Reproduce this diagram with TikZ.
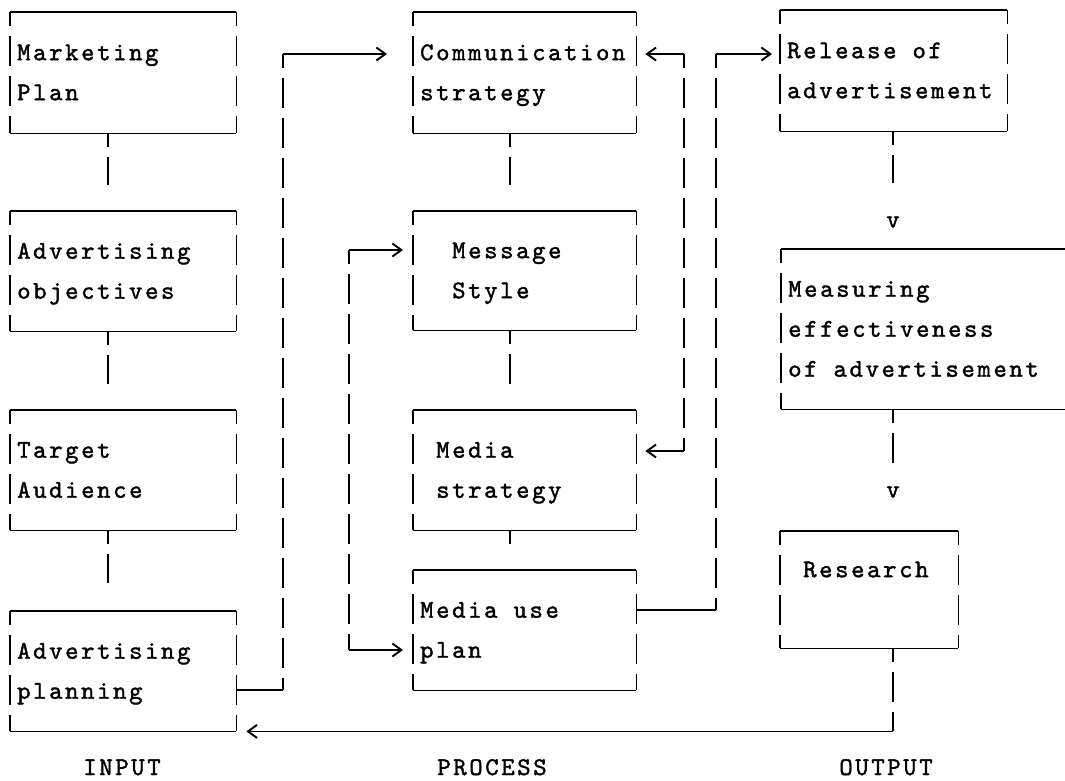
\documentclass[tikz,border=0pt]{standalone}
\usepackage{fontspec}
\newfontfamily\typewriter{lmmono10-regular.otf}[LetterSpace=10.2,FakeBold=1.5]
\usetikzlibrary{arrows.meta}
% fixed row height for the typed lines
\newcommand\rowstrut{\rule[-12.5pt]{0pt}{40pt}}
% one typewriter cell of blank space
\newcommand\cell{\hspace*{16pt}}
% typed frame: solid rules top and bottom, broken bars on the sides
\newcommand\typedframe[1]{%
  \draw[hline] (#1.north west) -- (#1.north east);
  \draw[hline] (#1.south west) -- (#1.south east);
  \draw[vline] (#1.north west) -- (#1.south west);
  \draw[vline] (#1.north east) -- (#1.south east);}
\begin{document}
\begin{tikzpicture}[x=1pt,y=-1pt,
  >={Straight Barb[length=9pt,width=13pt,line width=1.9pt]},
  txt/.style={font=\typewriter\fontsize{25.5}{40}\selectfont},
  box/.style 2 args={txt, anchor=north west, inner xsep=7pt, inner ysep=0pt,
    align=left, text width=#1, minimum height=#2},
  hline/.style={line width=1.6pt},
  vline/.style={line width=1.6pt, dash pattern=on 30pt off 10pt, dash phase=16pt},
  tick/.style={txt, inner sep=0pt},
  heading/.style={txt, anchor=base, inner sep=0pt}]

\useasboundingbox (0,0) rectangle (1065,780);

% ---------- input column ----------
\node[box={212pt}{121pt}] (mkt)  at (10,12)  {\rowstrut Marketing\\Plan\rowstrut};
\node[box={212pt}{120pt}] (obj)  at (10,211) {\rowstrut Advertising\\objectives\rowstrut};
\node[box={212pt}{120pt}] (aud)  at (10,410) {\rowstrut Target\\Audience\rowstrut};
\node[box={212pt}{120pt}] (plan) at (10,611) {\rowstrut Advertising\\planning\rowstrut};

% ---------- process column ----------
\node[box={209pt}{121pt}] (comm) at (413,12)  {\rowstrut Communication\\strategy\rowstrut};
\node[box={209pt}{119pt}] (msg)  at (413,211) {\rowstrut\cell\cell Message\\\cell\cell Style\rowstrut};
\node[box={209pt}{120pt}] (mstr) at (413,410) {\rowstrut\cell Media\\\cell strategy\rowstrut};
\node[box={209pt}{120pt}] (muse) at (413,570) {\rowstrut Media\cell use\\plan\rowstrut};

% ---------- output column ----------
\node[box={213pt}{121pt}] (rel)  at (780,10)  {\rowstrut Release\cell of\\advertisement\rowstrut};
\node[box={280pt}{160pt}] (meas) at (781,249) {\rowstrut Measuring\\effectiveness\\of\cell advertisement\rowstrut};
\node[box={164pt}{117pt}] (res)  at (780,531) {\rowstrut\cell Research\\\rowstrut};

\foreach \b in {mkt,obj,aud,plan,comm,msg,mstr,muse,rel,res} {\typedframe{\b}}

% the measuring box runs off the right edge
\coordinate (edge) at (1070,0);
\draw[hline] (meas.north west) -- (meas.north west -| edge);
\draw[hline] (meas.south west) -- (meas.south west -| edge);
\draw[vline] (meas.north west) -- (meas.south west);

% ---------- vertical links inside the columns ----------
\draw[vline, shorten >=26pt] ([xshift=-15pt]mkt.south) -- ([xshift=-15pt]obj.north);
\draw[vline, shorten >=26pt] ([xshift=-15pt]obj.south) -- ([xshift=-15pt]aud.north);
\draw[vline, shorten >=28pt] ([xshift=-15pt]aud.south) -- ([xshift=-15pt]plan.north);
\draw[vline, shorten >=26pt] ([xshift=-15pt]comm.south) -- ([xshift=-15pt]msg.north);
\draw[vline, shorten >=26pt] ([xshift=-15pt]msg.south) -- ([xshift=-15pt]mstr.north);
\draw[vline, shorten >=24pt] ([xshift=-15pt]mstr.south) -- ([xshift=-15pt]muse.north);

% typed "v" marks in the output column
\node[tick] (v1) at (893,222) {v};
\node[tick] (v2) at (893,492) {v};
\draw[vline, shorten >=33pt] (v1 |- rel.south) -- (v1.north);
\draw[vline, shorten >=23pt] (v2 |- meas.south) -- (v2.north);

% research back to advertising planning
\coordinate (g1) at (v2 |- plan.south);
\draw[vline] (v2 |- res.south) -- (g1);
\draw[hline, ->, shorten >=10pt] (g1) -- (plan.south east);

% advertising planning -> communication strategy
\coordinate (A1) at (283,690);
\coordinate (A2) at (283,54);
\draw[hline] (A1 -| plan.east) -- (A1);
\draw[vline] (A2) -- (A1);
\draw[hline, ->, shorten >=26pt] (A2) -- (A2 -| comm.west);

% message style <-> media use plan
\coordinate (B1) at (349,250);
\coordinate (B2) at (349,650);
\draw[hline, ->, shorten >=10pt] (B1) -- (B1 -| msg.west);
\draw[vline] (B1) -- (B2);
\draw[hline, ->, shorten >=10pt] (B2) -- (B2 -| muse.west);

% communication strategy <-> media strategy
\coordinate (C1) at (684,54);
\coordinate (C2) at (684,451);
\draw[hline, ->, shorten >=9pt] (C1) -- (C1 -| comm.east);
\draw[vline] (C1) -- (C2);
\draw[hline, ->, shorten >=9pt] (C2) -- (C2 -| mstr.east);

% media use plan -> release of advertisement
\coordinate (D1) at (716,610);
\coordinate (D2) at (716,54);
\draw[hline] (D1 -| muse.east) -- (D1);
\draw[vline] (D2) -- (D1);
\draw[hline, ->, shorten >=8pt] (D2) -- (D2 -| rel.west);

% column headings
\node[heading] (hin)  at (122,775) {INPUT};
\node[heading] (hpr)  at (492,775) {PROCESS};
\node[heading] (hout) at (886,775) {OUTPUT};
\end{tikzpicture}
\end{document}
